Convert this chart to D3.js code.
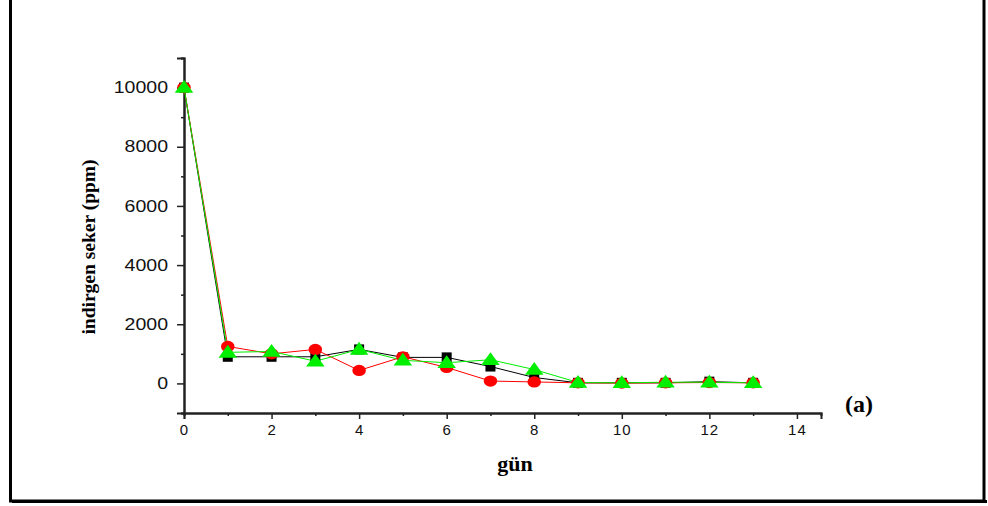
<!DOCTYPE html>
<html>
<head>
<meta charset="utf-8">
<script src="https://cdn.jsdelivr.net/npm/d3@7"></script>
<style>
  body { margin: 0; background: #fff; }
</style>
</head>
<body>
<script>
const days = [0, 1, 2, 3, 4, 5, 6, 7, 8, 9, 10, 11, 12, 13];
const blackValues = [10000, 900, 900, 900, 1150, 880, 880, 570, 200, 20, 20, 20, 60, 20];
const redValues = [10000, 1250, 1000, 1150, 440, 900, 540, 80, 50, 20, 10, 20, 30, 20];
const greenValues = [10000, 1050, 1080, 750, 1150, 780, 700, 800, 470, 30, 20, 40, 40, 20];
const xTicks = [0, 2, 4, 6, 8, 10, 12, 14];
const yTicks = [0, 2000, 4000, 6000, 8000, 10000];

const width = 988;
const height = 506;

const x = d3.scaleLinear().domain([0, 14.55]).range([184, 821]);
const y = d3.scaleLinear().domain([-1000, 11000]).range([413, 58]);

const svg = d3.select("body").append("svg")
  .attr("width", width)
  .attr("height", height);

// frame (left, right, bottom)
svg.append("path")
  .attr("d", "M 10.5 0 V 501 H 984 V 0")
  .attr("fill", "none")
  .attr("stroke", "#000")
  .attr("stroke-width", 3);
svg.append("path")
  .attr("d", "M 12 501.5 H 987")
  .attr("stroke", "#000")
  .attr("stroke-width", 3);

const axisGroup = svg.append("g");

const xAxis = d3.axisBottom(x).tickValues(xTicks).tickSize(6).tickPadding(5).tickFormat(d3.format("d"));
const xMinor = d3.axisBottom(x).tickValues(d3.range(1, 14, 2)).tickSize(3).tickFormat("");
const yAxis = d3.axisLeft(y).tickValues(yTicks).tickSize(7).tickPadding(6).tickFormat(d3.format("d"));
const yMinor = d3.axisLeft(y).tickValues(d3.range(-1000, 11001, 2000)).tickSize(3).tickFormat("");

axisGroup.append("g").attr("transform", `translate(0 ${y(-1000)})`).call(xMinor);
const xg = axisGroup.append("g").attr("transform", `translate(0 ${y(-1000)})`).call(xAxis);
axisGroup.append("g").attr("transform", `translate(${x(0)} 0)`).call(yMinor);
const yg = axisGroup.append("g").attr("transform", `translate(${x(0)} 0)`).call(yAxis);

axisGroup.selectAll(".domain").attr("stroke", "#222").attr("stroke-width", 2);
axisGroup.selectAll(".tick line").attr("stroke", "#222").attr("stroke-width", 1.5);
axisGroup.selectAll("text")
  .attr("font-family", "'Liberation Sans', Arial, sans-serif")
  .attr("fill", "#111");

xg.selectAll("text").attr("font-size", 15).attr("letter-spacing", 1);

// y labels are drawn wide in the original
yg.selectAll(".tick text")
  .attr("font-size", 16)
  .attr("x", null)
  .attr("transform", "translate(-16 0) scale(1.22 1)");

// titles
svg.append("text")
  .attr("transform", "translate(95 247) rotate(-90)")
  .attr("text-anchor", "middle")
  .attr("font-family", "'Liberation Serif', 'Times New Roman', serif")
  .attr("font-weight", "bold")
  .attr("font-size", 19.5)
  .text("indirgen seker (ppm)");

svg.append("text")
  .attr("x", 515)
  .attr("y", 471)
  .attr("text-anchor", "middle")
  .attr("font-family", "'Liberation Serif', 'Times New Roman', serif")
  .attr("font-weight", "bold")
  .attr("font-size", 22)
  .text("gün");

svg.append("text")
  .attr("x", 859)
  .attr("y", 412)
  .attr("text-anchor", "middle")
  .attr("font-family", "'Liberation Serif', 'Times New Roman', serif")
  .attr("font-weight", "bold")
  .attr("font-size", 24)
  .text("(a)");

const series = [
  { values: blackValues, color: "#000000", shape: "square" },
  { values: redValues, color: "#ff0000", shape: "circle" },
  { values: greenValues, color: "#00ee00", shape: "triangle" },
];

const line = d3.line()
  .x((d, i) => x(days[i]))
  .y((d) => y(d));

const dataGroup = svg.append("g");

series.forEach((s) => {
  dataGroup.append("path")
    .datum(s.values)
    .attr("d", line)
    .attr("fill", "none")
    .attr("stroke", s.color)
    .attr("stroke-width", 1);
});

series.forEach((s) => {
  const sym = s.shape === "square" ? d3.symbolSquare
    : s.shape === "circle" ? d3.symbolCircle : d3.symbolTriangle;
  const size = s.shape === "square" ? 100 : s.shape === "circle" ? 100 : 95;
  dataGroup.append("g")
    .selectAll("path")
    .data(s.values)
    .enter()
    .append("path")
    .attr("transform", (d, i) =>
      `translate(${x(days[i])} ${y(d) + (s.shape === "triangle" ? 1 : 0)})` +
      (s.shape === "circle" ? " scale(1.2 1)" : s.shape === "triangle" ? " scale(1.25 1)" : ""))
    .attr("d", d3.symbol().type(sym).size(size))
    .attr("fill", s.color);
});
</script>
</body>
</html>
